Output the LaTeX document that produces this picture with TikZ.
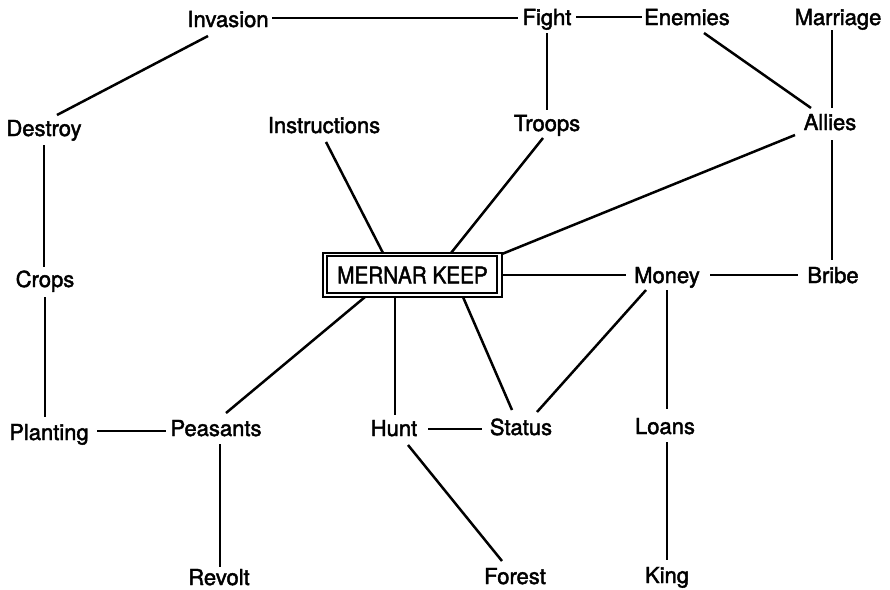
\documentclass[tikz,border=0pt]{standalone}
\usepackage{fontspec}
\setmainfont{TeX Gyre Heros}
\newfontfamily\labelfont{TeX Gyre Heros}[FakeBold=2]
\usetikzlibrary{calc}
\begin{document}
\begin{tikzpicture}[x=1pt,y=-1pt,
  lbl/.style={anchor=base, inner sep=0pt, font=\labelfont\fontsize{22}{26}\selectfont},
  link/.style={line width=2.5pt},
  keepbox/.style={draw, line width=2.7pt, minimum width=179pt, minimum height=44pt,
    inner sep=0pt, font=\labelfont\fontsize{23}{27}\selectfont}]
\useasboundingbox (0,0) rectangle (890,589);

% concept labels, placed on their baselines
\node[lbl] (inv)   at (228,27)  {Invasion};
\node[lbl] (fight) at (547,25)  {Fight};
\node[lbl] (enem)  at (687,25)  {Enemies};
\node[lbl] (marr)  at (838,25)  {Marriage};
\node[lbl] (dest)  at (44,136)  {Destroy};
\node[lbl] (instr) at (324,133) {Instructions};
\node[lbl] (troop) at (547,131) {Troops};
\node[lbl] (ally)  at (830,130) {Allies};
\node[lbl] (crop)  at (45,287)  {Crops};
\node[lbl] (money) at (667,283) {Money};
\node[lbl] (bribe) at (833,283) {Bribe};
\node[lbl] (plant) at (49,440)  {Planting};
\node[lbl] (peas)  at (216,436) {Peasants};
\node[lbl] (hunt)  at (394,436) {Hunt};
\node[lbl] (stat)  at (521,435) {Status};
\node[lbl] (loan)  at (665,434) {Loans};
\node[lbl] (revo)  at (219,585) {Revolt};
\node[lbl] (forest) at (515,584) {Forest};
\node[lbl] (king)  at (667,583) {King};

% central double-framed box
\node[keepbox] (keep) at (412.5,275) {\scalebox{0.9}[1]{MERNAR KEEP}};
\draw[line width=2pt] ([shift={(5,4.5)}]keep.north west) rectangle ([shift={(-6.5,-5)}]keep.south east);

% connectors
\draw[link] ($(inv.base)+(44,-9)$) -- ($(fight.base)+(-29,-7)$);
\draw[link] ($(fight.base)+(29,-8)$) -- ($(enem.base)+(-45,-8)$);
\draw[link] ($(fight.base)+(0,8)$) -- ($(troop.base)+(0,-21)$);
\draw[link] ($(enem.base)+(17,8)$) -- ($(ally.base)+(-19,-22)$);
\draw[link] ($(marr.base)+(-6,5)$) -- ($(ally.base)+(2,-22)$);
\draw[link] ($(inv.base)+(-20,9)$) -- ($(dest.base)+(13,-21)$);
\draw[link] ($(dest.base)+(0,9)$) -- ($(crop.base)+(-1,-20)$);
\draw[link] ($(crop.base)+(0,10)$) -- ($(plant.base)+(-4,-23)$);
\draw[link] ($(plant.base)+(48,-9)$) -- ($(peas.base)+(-50,-5)$);
\draw[link] ($(peas.base)+(4,8)$) -- ($(revo.base)+(1,-18)$);
\draw[link] ($(peas.base)+(10,-23)$) -- ($(keep.center)+(-47.5,22)$);
\draw[link] ($(keep.center)+(-17.5,22)$) -- ($(hunt.base)+(1,-21)$);
\draw[link] ($(keep.center)+(50.5,22)$) -- ($(stat.base)+(-9,-25)$);
\draw[link] ($(hunt.base)+(34,-7)$) -- ($(stat.base)+(-39,-6)$);
\draw[link] ($(hunt.base)+(14,9)$) -- ($(forest.base)+(-13,-23)$);
\draw[link] ($(money.base)+(-21,7)$) -- ($(stat.base)+(16,-23)$);
\draw[link] ($(money.base)+(0,7)$) -- ($(loan.base)+(2,-25)$);
\draw[link] ($(loan.base)+(2,8)$) -- ($(king.base)+(0,-23)$);
\draw[link] (keep.east) -- ($(money.base)+(-41,-8)$);
\draw[link] ($(money.base)+(43,-8)$) -- ($(bribe.base)+(-35,-8)$);
\draw[link] ($(ally.base)+(2,10)$) -- ($(bribe.base)+(-1,-23)$);
\draw[link] ($(ally.base)+(-35,5)$) -- ($(keep.center)+(89.5,-21)$);
\draw[link] ($(instr.base)+(2,9)$) -- ($(keep.center)+(-29.5,-22)$);
\draw[link] ($(troop.base)+(-4,7)$) -- ($(keep.center)+(38.5,-22)$);
\end{tikzpicture}
\end{document}
